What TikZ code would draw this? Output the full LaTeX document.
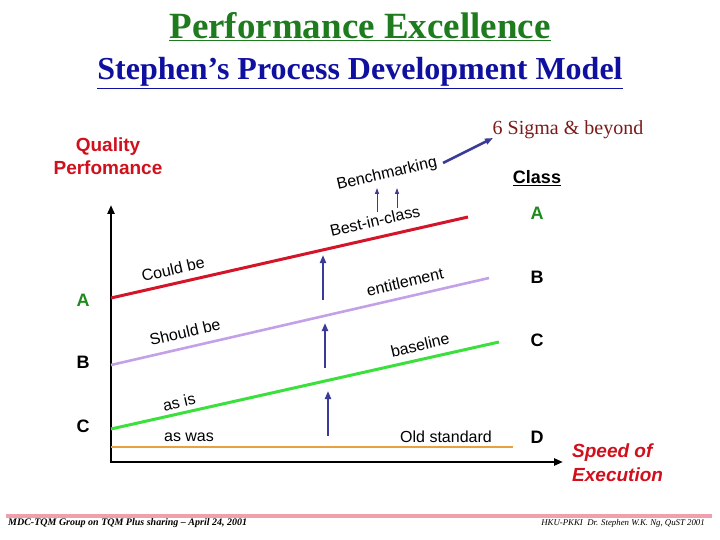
\documentclass[tikz,border=0pt]{standalone}
\usepackage{fontspec}
\setmainfont{Liberation Sans}
\newfontfamily\titlefont{Liberation Serif}
\usetikzlibrary{positioning,arrows.meta}

\definecolor{titlegreen}{HTML}{1E7B1E}
\definecolor{titleblue}{HTML}{1010A0}
\definecolor{axisred}{HTML}{D0101C}
\definecolor{linered}{HTML}{D41428}
\definecolor{linepurple}{HTML}{C4A0E8}
\definecolor{linegreen}{HTML}{3CE03C}
\definecolor{lineorange}{HTML}{E8A040}
\definecolor{arrowblue}{HTML}{3A3A98}
\definecolor{sigmared}{HTML}{7A1A1A}
\definecolor{classgreen}{HTML}{1E8A1E}
\definecolor{footpink}{HTML}{F0A0AC}

\begin{document}
\begin{tikzpicture}[
    x=1pt, y=-1pt,
    every node/.style={inner sep=1pt, font=\fontsize{16}{18}\selectfont},
    trend/.style={line width=3pt},
    axis/.style={line width=2.4pt, line join=miter, {Triangle[length=9pt,width=7pt]}-{Triangle[length=9pt,width=7pt]}},
    push/.style={draw=arrowblue, line width=2.2pt, -{Triangle[length=8pt,width=6pt]}},
    lift/.style={draw=arrowblue, line width=1pt, -{Triangle[length=6pt,width=4pt]}},
    tag/.style={rotate=13},
    grade/.style={font=\bfseries\fontsize{18}{20}\selectfont},
    axislabel/.style={text=axisred, align=center, font=\bfseries\fontsize{19}{23}\selectfont}
]
    \useasboundingbox (0,0) rectangle (720,540);

    % Titles
    \node[text=titlegreen, font=\titlefont\bfseries\fontsize{37}{40}\selectfont] (title) at (360,27) {\underline{Performance Excellence}};
    \node[text=titleblue, font=\titlefont\bfseries\fontsize{32}{36}\selectfont] (subtitle) at (360,73) {\underline{Stephen’s Process Development Model}};

    % Axes
    \coordinate (ytop) at (111,205);
    \coordinate (origin) at (111,462);
    \coordinate (xend) at (563,462);
    \draw[axis] (ytop) -- (origin) -- (xend);
    \node[axislabel] (quality) at (108,156) {Quality\\Perfomance};
    \node[axislabel, font=\bfseries\itshape\fontsize{19}{24}\selectfont, align=left, anchor=west] (speed) at (571,463) {Speed of\\Execution};

    % Process lines
    \coordinate (redA) at (111,298);   \coordinate (redEnd) at (468,217);
    \coordinate (purB) at (111,365);   \coordinate (purEnd) at (489,278);
    \coordinate (grnC) at (111,429);   \coordinate (grnEnd) at (499,342);
    \coordinate (orgD) at (111,447);   \coordinate (orgEnd) at (513,447);
    \draw[trend, linered] (redA) -- (redEnd);
    \draw[trend, linepurple, line width=2.6pt] (purB) -- (purEnd);
    \draw[trend, linegreen] (grnC) -- (grnEnd);
    \draw[trend, lineorange, line width=2pt] (orgD) -- (orgEnd);

    % Line labels
    \node[tag] (could) at (173,269) {Could be};
    \node[tag] (should) at (185,332) {Should be};
    \node[tag] (asis) at (179,402) {as is};
    \node (aswas) at (189,437) {as was};
    \node[tag] (best) at (375,221) {Best-in-class};
    \node[tag] (bench) at (387,174) {Benchmarking};
    \node[tag] (entitle) at (405,282) {entitlement};
    \node[tag] (base) at (420,345) {baseline};
    \node (oldstd) at (446,437) {Old standard};
    \node[text=sigmared, font=\titlefont\fontsize{20}{22}\selectfont] (sigma) at (568,130) {6 Sigma \& beyond};

    % Improvement arrows
    \coordinate (up1a) at (323,300); \coordinate (up1b) at (323,255);
    \coordinate (up2a) at (325,368); \coordinate (up2b) at (325,323);
    \coordinate (up3a) at (328,436); \coordinate (up3b) at (328,391);
    \coordinate (lift1a) at (377,212); \coordinate (lift1b) at (377,188);
    \coordinate (lift2a) at (397,208); \coordinate (lift2b) at (397,188);
    \coordinate (jump) at (443,163); \coordinate (jumpEnd) at (493,138);
    \draw[push] (up1a) -- (up1b);
    \draw[push] (up2a) -- (up2b);
    \draw[push] (up3a) -- (up3b);
    \draw[lift] (lift1a) -- (lift1b);
    \draw[lift] (lift2a) -- (lift2b);
    \draw[push, line width=2.6pt] (jump) -- (jumpEnd);

    % Class column
    \node[grade] (class) at (537,178) {\underline{Class}};
    \node[grade, text=classgreen] (classA) at (537,213) {A};
    \node[grade] (classB) at (537,277) {B};
    \node[grade] (classC) at (537,340) {C};
    \node[grade] (classD) at (537,437) {D};

    % Start grades
    \node[grade, text=classgreen] (startA) at (83,300) {A};
    \node[grade] (startB) at (83,362) {B};
    \node[grade] (startC) at (83,426) {C};

    % Footer
    \coordinate (footL) at (6,516);
    \coordinate (footR) at (712,516);
    \draw[footpink, line width=4pt] (footL) -- (footR);
    \node[anchor=west, font=\titlefont\bfseries\itshape\fontsize{10}{12}\selectfont] (footleft) at (7,523) {MDC-TQM Group on TQM Plus sharing – April 24, 2001};
    \node[anchor=east, font=\titlefont\itshape\fontsize{8.8}{11}\selectfont] (footright) at (706,523) {HKU-PKKI\ \ Dr. Stephen W.K. Ng, QuST 2001};
\end{tikzpicture}
\end{document}
